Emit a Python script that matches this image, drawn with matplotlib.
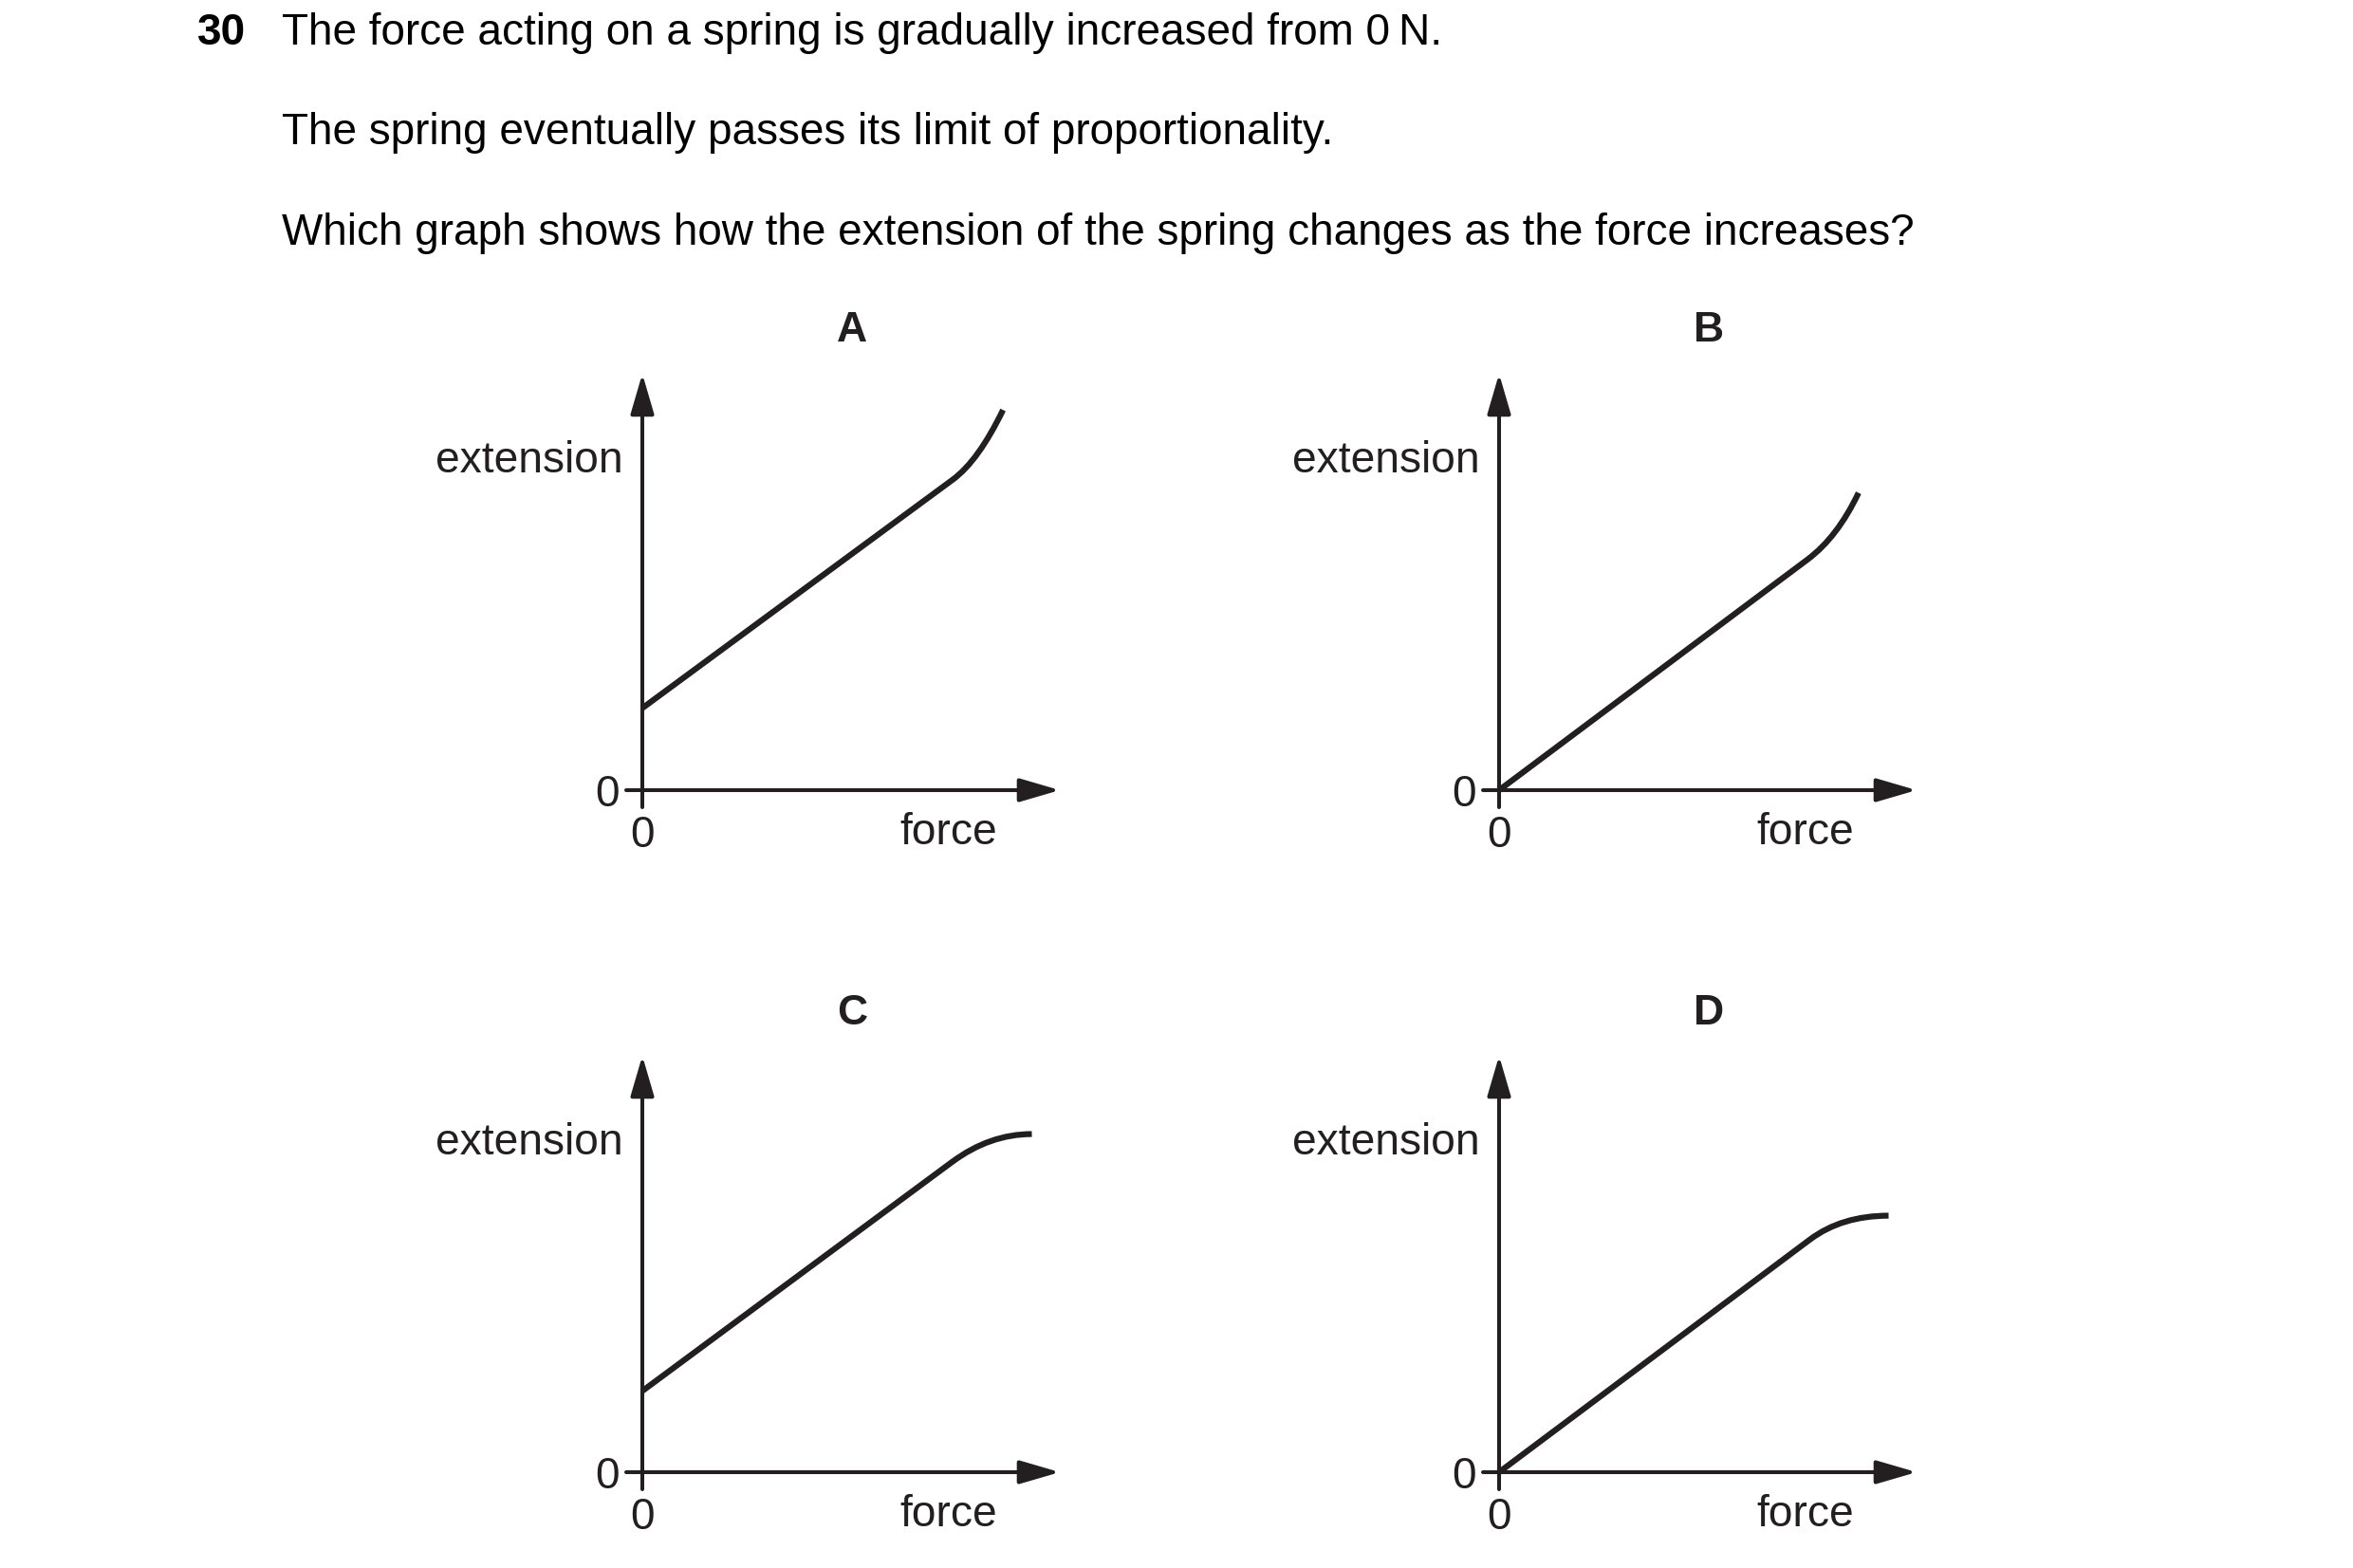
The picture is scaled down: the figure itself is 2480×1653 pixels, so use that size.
import matplotlib
matplotlib.use('Agg')
import matplotlib.pyplot as plt
from matplotlib.path import Path
from matplotlib.patches import PathPatch

plt.rcParams['font.family'] = ['Liberation Sans', 'DejaVu Sans']

W, H = 2480, 1653
DPI = 200
INK = '#231f20'

# question text
q_number = '30'
q_lines = ['The force acting on a spring is gradually increased from 0\u2009N.',
           'The spring eventually passes its limit of proportionality.',
           'Which graph shows how the extension of the spring changes as the force increases?']

labels = ['A', 'B', 'C', 'D']
x_label = 'force'
y_label = 'extension'

# curve points in axis units (arrow tip = 1)
# start, end of straight part, bend control point, end of curve
force_A = [0.0, 0.744, 0.805, 0.864]
ext_A = [0.197, 0.746, 0.791, 0.913]
force_B = [0.0, 0.739, 0.811, 0.861]
ext_B = [0.0, 0.554, 0.608, 0.714]
force_C = [0.0, 0.742, 0.832, 0.933]
ext_C = [0.195, 0.745, 0.812, 0.812]
force_D = [0.0, 0.745, 0.821, 0.933]
ext_D = [0.0, 0.559, 0.616, 0.616]
curves = [(force_A, ext_A), (force_B, ext_B), (force_C, ext_C), (force_D, ext_D)]

# graph origins in pixels from top left, axis lengths in pixels
origins = [(677, 833), (1580, 833), (677, 1552), (1580, 1552)]
X_LEN = 440
Y_LEN = 439

FS = 16.6


def fx(x):
    return x / W


def fy(y):
    return 1 - y / H


fig = plt.figure(figsize=(W / DPI, H / DPI), dpi=DPI)
fig.patch.set_facecolor('white')

# question
fig.text(fx(208), fy(47), q_number, fontsize=16.5, fontweight='bold', color='black', va='baseline')
for i, line in enumerate(q_lines):
    fig.text(fx(297), fy(47 + i * 105.5), line, fontsize=16.5, color='black', va='baseline')

arrow = dict(arrowstyle='-|>,head_length=1.3,head_width=0.38', mutation_scale=10,
             lw=1.45, color=INK, shrinkA=0, shrinkB=0)

for lab, (fo, ex), (ox, oy) in zip(labels, curves, origins):
    ax = fig.add_axes([fx(ox), fy(oy), X_LEN / W, Y_LEN / H])
    ax.set_xlim(0, 1)
    ax.set_ylim(0, 1)
    ax.axis('off')

    # axes with arrow heads, little tick past the origin
    ax.annotate('', xy=(1, 0), xytext=(-17 / X_LEN, 0), arrowprops=arrow, annotation_clip=False)
    ax.annotate('', xy=(0, 1), xytext=(0, -18 / Y_LEN), arrowprops=arrow, annotation_clip=False)

    # curve: straight line then a smooth bend
    path = Path(list(zip(fo, ex)), [Path.MOVETO, Path.LINETO, Path.CURVE3, Path.CURVE3])
    ax.add_patch(PathPatch(path, fill=False, lw=2.25, ec=INK, capstyle='butt',
                           joinstyle='round', clip_on=False))

    # labels
    fig.text(fx(ox + 221), fy(oy - 484), lab, fontsize=16, fontweight='bold',
             color=INK, ha='center', va='center')
    fig.text(fx(ox - 20), fy(oy - 335), y_label, fontsize=FS, color=INK,
             ha='right', va='baseline')
    fig.text(fx(ox + 323), fy(oy + 57), x_label, fontsize=FS, color=INK,
             ha='center', va='baseline')
    fig.text(fx(ox), fy(oy + 60), '0', fontsize=FS, color=INK, ha='center', va='baseline')
    fig.text(fx(ox - 24), fy(oy + 17), '0', fontsize=FS, color=INK, ha='right', va='baseline')

fig.savefig('out.png', dpi=DPI, facecolor='white')
